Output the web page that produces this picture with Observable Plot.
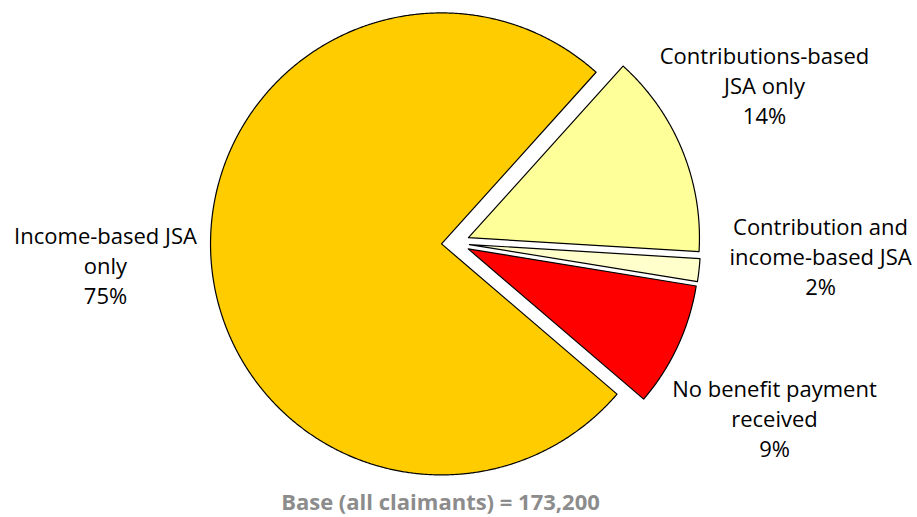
<!DOCTYPE html>
<html>
<head>
<meta charset="utf-8">
<script src="https://cdn.jsdelivr.net/npm/d3@7"></script>
<script src="https://cdn.jsdelivr.net/npm/@observablehq/plot@0.6"></script>
<style>
  html, body { margin: 0; padding: 0; background: #fff; overflow: hidden; }
  figure { margin: 0; }
  figcaption {
    text-align: center;
    font-family: "Open Sans", sans-serif;
    font-weight: bold;
    font-size: 22px;
    color: #8c8c8c;
    line-height: 30px;
    padding-top: 8px;
    padding-right: 36px;
  }
</style>
</head>
<body>
<div id="chart"></div>
<script>
// ---- data ----
const categories = [
  "Contributions-based JSA only",
  "Contribution and income-based JSA",
  "No benefit payment received",
  "Income-based JSA only"
];
const shares = [14.3, 1.6, 8.7, 75.4];
const labelTexts = [
  "Contributions-based\nJSA only\n14%",
  "Contribution and\nincome-based JSA\n2%",
  "No benefit payment\nreceived\n9%",
  "Income-based JSA\nonly\n75%"
];
const colours = ["#FFFF99", "#FFFFCC", "#FF0000", "#FFCC00"];
const captionText = "Base (all claimants) = 173,200";

// ---- layout ----
const W = 917, H = 478;
const cx = 455, cy = 242.5, R = 231, explode = 14;
const startDeg = 42;
const labelPos = [[764, 84], [820, 255], [774, 417], [105, 264]];

const arcs = d3.pie().sort(null)
  .startAngle(startDeg * Math.PI / 180)
  .endAngle(startDeg * Math.PI / 180 + 2 * Math.PI)(shares);

const pts = [];
arcs.forEach((a, i) => {
  const mid = (a.startAngle + a.endAngle) / 2;
  const ox = cx + explode * Math.sin(mid);
  const oy = cy - explode * Math.cos(mid);
  pts.push({cat: categories[i], x: ox, y: oy});
  const n = Math.max(8, Math.ceil((a.endAngle - a.startAngle) * 180));
  for (let k = 0; k <= n; k++) {
    const t = a.startAngle + (a.endAngle - a.startAngle) * k / n;
    pts.push({cat: categories[i], x: ox + R * Math.sin(t), y: oy - R * Math.cos(t)});
  }
});

const labels = categories.map((c, i) => ({cat: c, text: labelTexts[i], x: labelPos[i][0], y: labelPos[i][1]}));

const chart = Plot.plot({
  width: W,
  height: H,
  margin: 0,
  x: {domain: [0, W], range: [0, W], axis: null},
  y: {domain: [0, H], range: [0, H], axis: null},
  color: {domain: categories, range: colours},
  style: {fontFamily: "'Open Sans', sans-serif", background: "#fff"},
  caption: captionText,
  marks: [
    Plot.line(pts, {x: "x", y: "y", z: "cat", fill: "cat", stroke: "#000", strokeWidth: 1.2, curve: "linear-closed"}),
    Plot.text(labels, {x: "x", y: "y", text: "text", fontSize: 22, lineHeight: 1.37, fill: "#000", textAnchor: "middle"})
  ]
});
document.getElementById("chart").appendChild(chart);
</script>
</body>
</html>
